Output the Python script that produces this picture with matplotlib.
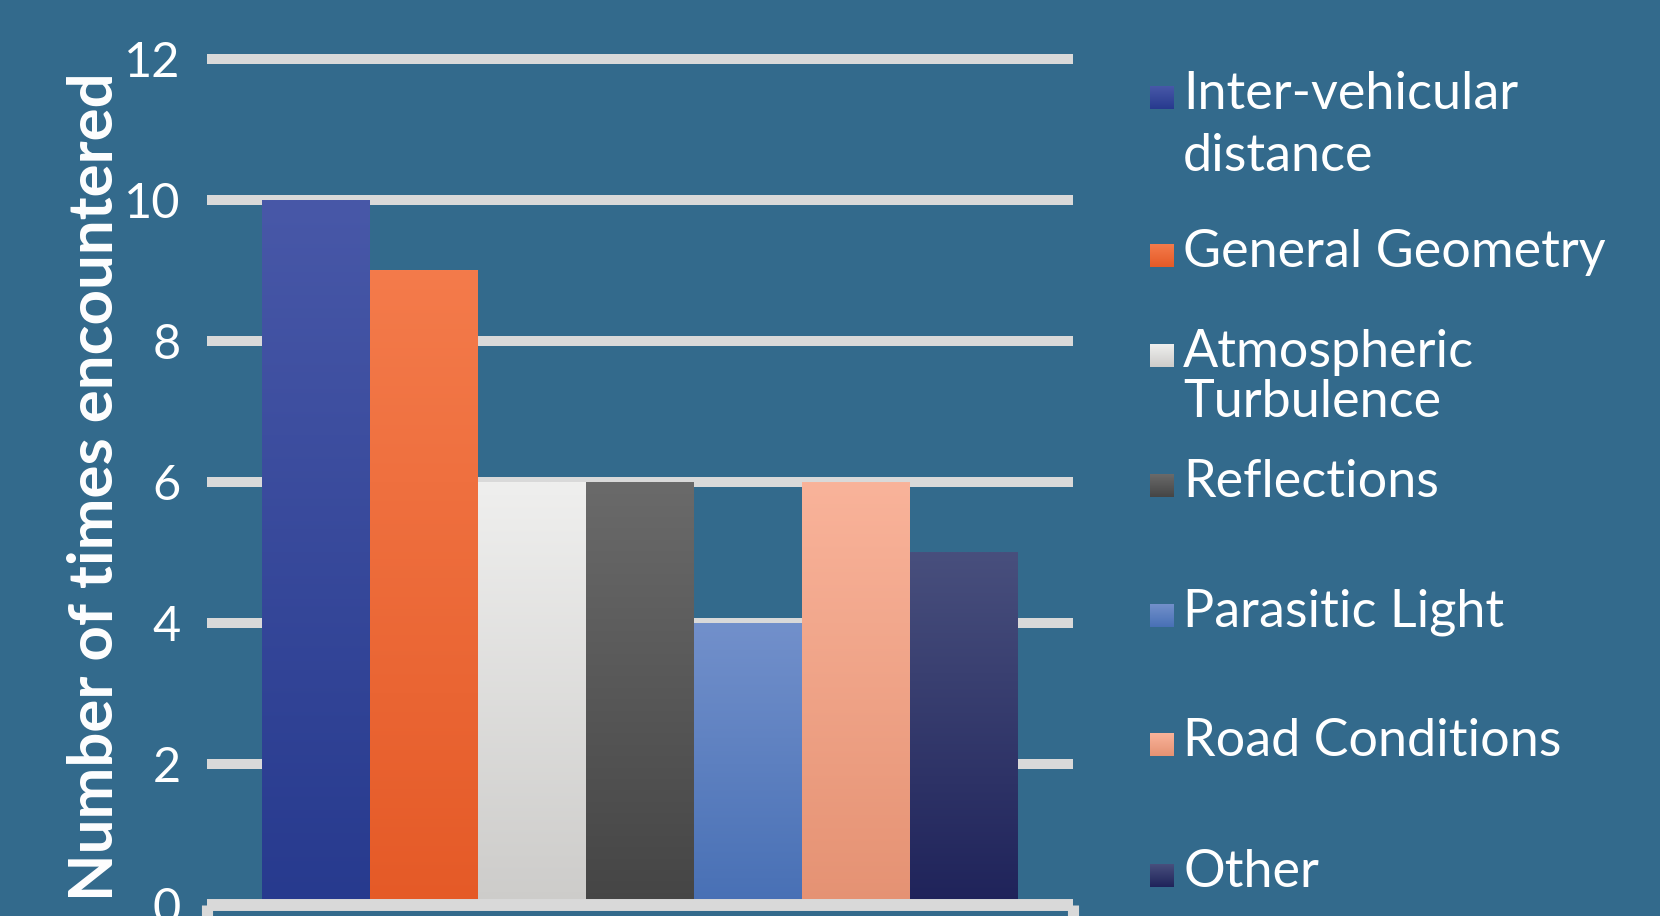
import numpy as np
import matplotlib
matplotlib.use("Agg")
import matplotlib.pyplot as plt
from matplotlib.colors import to_rgb

# data
categories = ["Inter-vehicular\ndistance", "General Geometry", "Atmospheric\nTurbulence",
              "Reflections", "Parasitic Light", "Road Conditions", "Other"]
counts = [10, 9, 6, 6, 4, 6, 5]
y_ticks = [0, 2, 4, 6, 8, 10, 12]

# bar fills, top -> bottom of each gradient
top_colors = ["#4858A8", "#F47B4B", "#EFEFEE", "#6A6A6A", "#7290CB", "#F9B39A", "#484F7D"]
bottom_colors = ["#273A8E", "#E55A27", "#CDCCCA", "#454545", "#4870B5", "#E59273", "#1F235A"]

bg = "#336A8C"
grid = "#D9D9D9"
W, H = 1660, 916

plt.rcParams['font.family'] = ['Lato', 'DejaVu Sans']


def gradient(c_top, c_bot, n=256):
    t = np.linspace(0, 1, n)[:, None, None]
    return (1 - t) * np.array(to_rgb(c_top)) + t * np.array(to_rgb(c_bot))


fig = plt.figure(figsize=(W / 100, H / 100), dpi=100, facecolor=bg)
ax = fig.add_axes([207 / W, 11 / H, 866 / W, 846 / H], facecolor=bg)

x = np.arange(len(counts))
bars = ax.bar(x, counts, width=1.0, color='none', edgecolor='none', zorder=3)
for b, ct, cb in zip(bars, top_colors, bottom_colors):
    x0, w, h = b.get_x(), b.get_width(), b.get_height()
    ax.imshow(gradient(ct, cb), extent=[x0, x0 + w, 0, h], aspect='auto',
              interpolation='bilinear', zorder=3)

pad = 0.51
ax.set_xlim(-0.5 - pad, len(counts) - 0.5 + pad)
ax.set_ylim(0, 12)

# horizontal grid, drawn unclipped so the top line keeps full width
for yv in y_ticks[1:]:
    ax.axhline(yv, color=grid, lw=7.2, zorder=1, clip_on=False, solid_capstyle='butt')

for s in ['left', 'right', 'top']:
    ax.spines[s].set_visible(False)
ax.spines['bottom'].set_color(grid)
ax.spines['bottom'].set_linewidth(8.6)
ax.spines['bottom'].set_capstyle('butt')
ax.spines['bottom'].set_zorder(4)

ax.set_yticks(y_ticks)
ax.tick_params(axis='y', length=0, pad=19, labelsize=35, labelcolor='white')
ax.set_xticks(ax.get_xlim())
ax.set_xticklabels([])
ax.tick_params(axis='x', length=20, width=8, color=grid, direction='out')

ax.set_ylabel("Number of times encountered", fontsize=44.5, fontweight='bold', color='white')
ax.yaxis.set_label_coords(-0.097, 0.495)

# legend on the right, one swatch + text per category
legend_baselines = [109, 267, 367, 497, 627, 756, 887]
legend_pitch = [62, 0, 50, 0, 0, 0, 0]
for label, base, step, ct, cb in zip(categories, legend_baselines, legend_pitch,
                                     top_colors, bottom_colors):
    sw = fig.add_axes([1150 / W, 1 - base / H, 24 / W, 23 / H])
    sw.imshow(gradient(ct, cb), aspect='auto', interpolation='bilinear')
    sw.set_axis_off()
    for k, line in enumerate(label.split("\n")):
        fig.text(1183 / W, 1 - (base + k * step) / H, line, fontsize=37.5,
                 color='white', va='baseline', ha='left')

fig.savefig("out.png", dpi=100, facecolor=bg)
